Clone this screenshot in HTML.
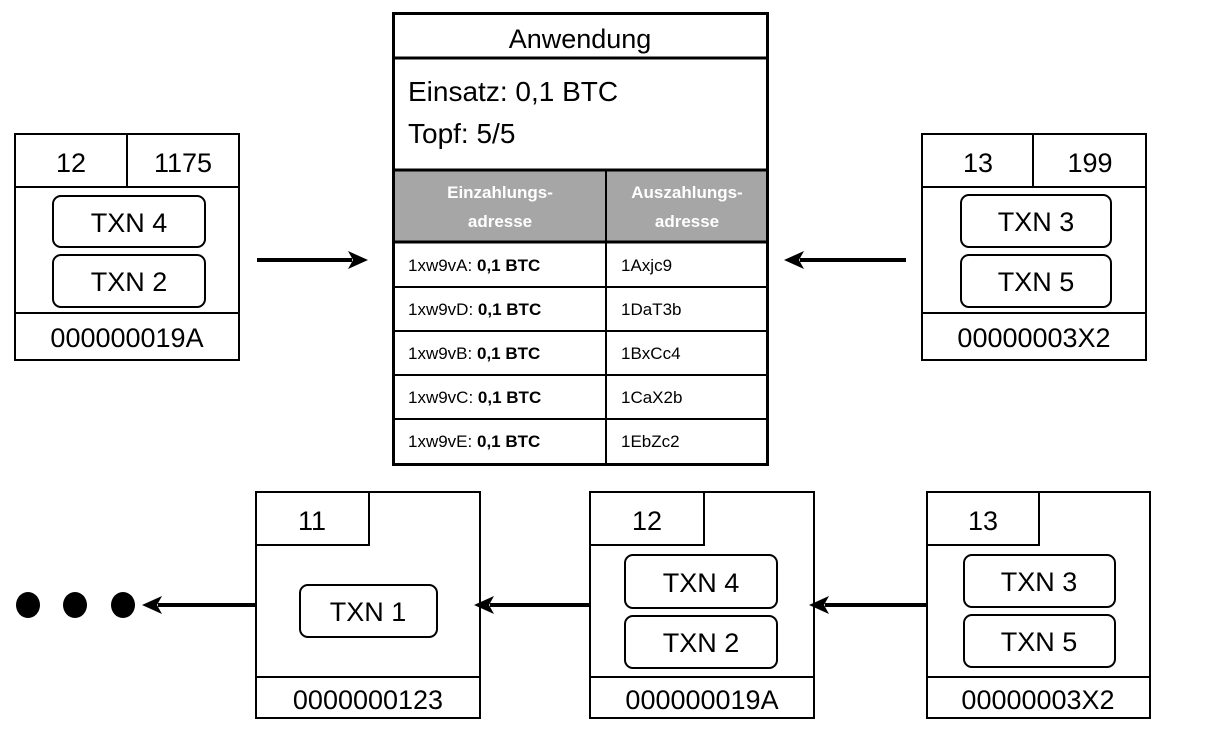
<!DOCTYPE html>
<html><head><meta charset="utf-8"><style>
html,body{margin:0;padding:0;background:#fff;}
svg{display:block;font-family:"Liberation Sans",sans-serif;}
</style></head><body>
<svg width="1217" height="731" viewBox="0 0 1217 731">
<g stroke="#000" stroke-width="2" fill="none">
<rect x="15" y="134" width="224" height="226"/>
<line x1="15" y1="187" x2="239" y2="187"/><line x1="127" y1="134" x2="127" y2="187"/>
<line x1="15" y1="313" x2="239" y2="313"/>
<rect x="53" y="196" width="152" height="51" rx="8"/>
<rect x="53" y="255" width="152" height="52" rx="8"/>
<rect x="922" y="134" width="224" height="226"/>
<line x1="922" y1="187" x2="1146" y2="187"/><line x1="1033" y1="134" x2="1033" y2="187"/>
<line x1="922" y1="313" x2="1146" y2="313"/>
<rect x="961" y="195" width="150" height="52" rx="8"/>
<rect x="961" y="255" width="150" height="52" rx="8"/>
<rect x="256" y="492" width="224" height="226"/>
<polyline points="256,545 369,545 369,492"/>
<line x1="256" y1="677" x2="480" y2="677"/>
<rect x="300" y="585" width="137" height="52" rx="8"/>
<rect x="590" y="492" width="224" height="226"/>
<polyline points="590,545 704,545 704,492"/>
<line x1="590" y1="677" x2="814" y2="677"/>
<rect x="625" y="555" width="152" height="53" rx="8"/>
<rect x="625" y="616" width="152" height="52" rx="8"/>
<rect x="927" y="492" width="223" height="226"/>
<polyline points="927,545 1039,545 1039,492"/>
<line x1="927" y1="677" x2="1150" y2="677"/>
<rect x="964" y="555" width="151" height="52" rx="8"/>
<rect x="964" y="615" width="151" height="52" rx="8"/>
</g>
<rect x="392" y="169" width="376" height="73" fill="#a6a6a6"/>
<g stroke="#000" fill="none">
<rect x="393.5" y="13.5" width="374" height="451" stroke-width="3"/>
<line x1="393" y1="58" x2="768" y2="58" stroke-width="3"/>
<line x1="393" y1="170" x2="768" y2="170" stroke-width="3"/>
<line x1="393" y1="242" x2="768" y2="242" stroke-width="3"/>
<line x1="606" y1="170" x2="606" y2="465" stroke-width="2"/>
<line x1="393" y1="287" x2="768" y2="287" stroke-width="2"/>
<line x1="393" y1="331" x2="768" y2="331" stroke-width="2"/>
<line x1="393" y1="375" x2="768" y2="375" stroke-width="2"/>
<line x1="393" y1="419" x2="768" y2="419" stroke-width="2"/>
</g>
<g stroke="#000" stroke-width="4">
<line x1="257" y1="260" x2="352" y2="260"/>
<line x1="906" y1="260" x2="800" y2="260"/>
<line x1="256" y1="605" x2="158" y2="605"/>
<line x1="590" y1="605" x2="490" y2="605"/>
<line x1="927" y1="605" x2="825" y2="605"/>
</g>
<g fill="#000">
<polygon points="368,260 348,251 353,260 348,269"/>
<polygon points="784,260 804,251 799,260 804,269"/>
<polygon points="142,605 162,596 157,605 162,614"/>
<polygon points="474,605 494,596 489,605 494,614"/>
<polygon points="809,605 829,596 824,605 829,614"/>
<ellipse cx="28" cy="605" rx="12" ry="13"/><ellipse cx="75" cy="605" rx="12" ry="13"/><ellipse cx="123" cy="605" rx="12" ry="13"/>
</g>
<g font-size="27" text-anchor="middle" fill="#000">
<text x="71" y="172">12</text><text x="183" y="172">1175</text>
<text x="129" y="232">TXN 4</text><text x="129" y="291">TXN 2</text>
<text x="127" y="347">000000019A</text>
<text x="978" y="172">13</text><text x="1090" y="172">199</text>
<text x="1036" y="231">TXN 3</text><text x="1036" y="291">TXN 5</text>
<text x="1034" y="347">00000003X2</text>
<text x="312" y="530">11</text>
<text x="368" y="621">TXN 1</text>
<text x="368" y="709">0000000123</text>
<text x="647" y="530">12</text>
<text x="701" y="592">TXN 4</text><text x="701" y="652">TXN 2</text>
<text x="702" y="709">000000019A</text>
<text x="983" y="530">13</text>
<text x="1039" y="591">TXN 3</text><text x="1039" y="651">TXN 5</text>
<text x="1038" y="709">00000003X2</text>
<text x="580" y="48">Anwendung</text>
</g>
<g font-size="28" fill="#000">
<text x="408" y="101">Einsatz: 0,1 BTC</text>
<text x="408" y="143">Topf: 5/5</text>
</g>
<g font-size="17" font-weight="bold" fill="#fff" text-anchor="middle">
<text x="500" y="198">Einzahlungs-</text><text x="500" y="227">adresse</text>
<text x="687" y="198">Auszahlungs-</text><text x="687" y="227">adresse</text>
</g>
<g font-size="17" fill="#000">
<text x="408" y="271">1xw9vA: <tspan font-weight="bold">0,1 BTC</tspan></text>
<text x="408" y="315">1xw9vD: <tspan font-weight="bold">0,1 BTC</tspan></text>
<text x="408" y="359">1xw9vB: <tspan font-weight="bold">0,1 BTC</tspan></text>
<text x="408" y="403">1xw9vC: <tspan font-weight="bold">0,1 BTC</tspan></text>
<text x="408" y="447">1xw9vE: <tspan font-weight="bold">0,1 BTC</tspan></text>
<text x="621" y="271">1Axjc9</text>
<text x="621" y="315">1DaT3b</text>
<text x="621" y="359">1BxCc4</text>
<text x="621" y="403">1CaX2b</text>
<text x="621" y="447">1EbZc2</text>
</g>
</svg>
</body></html>
